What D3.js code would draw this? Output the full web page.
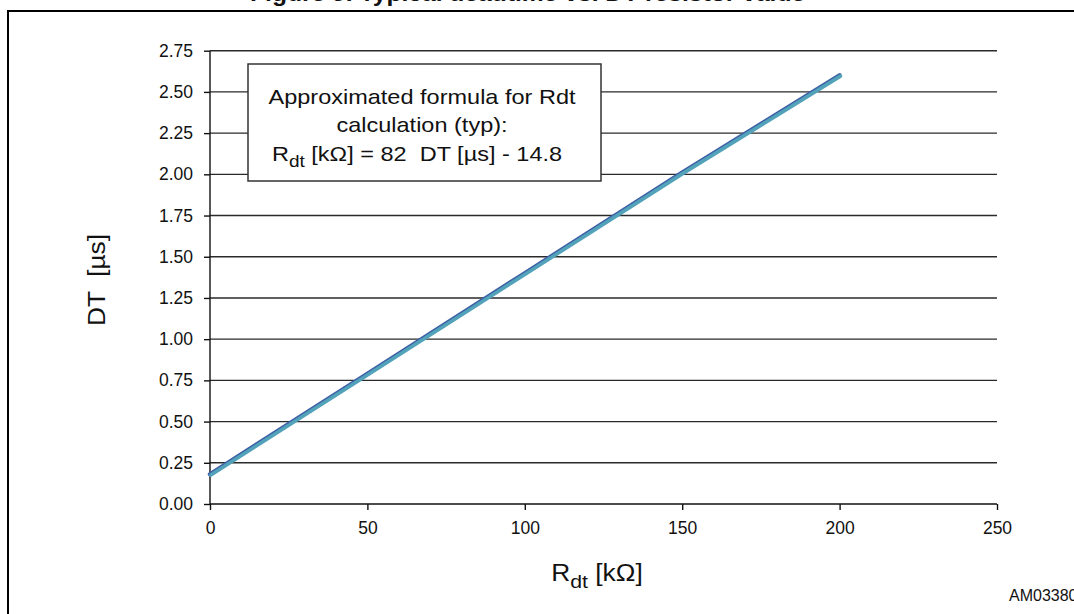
<!DOCTYPE html>
<html><head><meta charset="utf-8">
<script src="https://cdn.jsdelivr.net/npm/d3@7"></script>
<style>
html,body{margin:0;padding:0;background:#fff;overflow:hidden}
text{font-family:"Liberation Sans",Arial,sans-serif;fill:#111;white-space:pre}
</style></head>
<body><svg id="c" width="1074" height="614"></svg>
<script>
const resistance = [0, 50, 100, 150, 200];
const deadtime = [0.18, 0.79, 1.40, 2.01, 2.60];
const xTicks = [0, 50, 100, 150, 200, 250];
const yTicks = [0, 0.25, 0.5, 0.75, 1.0, 1.25, 1.5, 1.75, 2.0, 2.25, 2.5, 2.75];
const boxLines = ["Approximated formula for Rdt", "calculation (typ):"];
const titleText = "Figure 9. Typical deadtime vs. DT resistor value";
const codeText = "AM03380";

const svg = d3.select("#c");
const x = d3.scaleLinear().domain([0, 250]).range([210, 997]);
const y = d3.scaleLinear().domain([0, 2.75]).range([504, 50.7]);

// title (cut off at top, as in the reference)
svg.append("text").attr("transform", "translate(250,1) scale(1.12,1)")
  .attr("font-size", 22).attr("font-weight", "bold").text(titleText);

// frame
svg.append("path").attr("d", "M8,700V11H1100").attr("fill", "none")
  .attr("stroke", "#000").attr("stroke-width", 2);

// gridlines
svg.append("g").selectAll("line").data(yTicks.filter(d => d > 0)).join("line")
  .attr("x1", x(0)).attr("x2", x(250)).attr("y1", d => y(d)).attr("y2", d => y(d))
  .attr("stroke", "#2a2a2a").attr("stroke-width", 1.4);

// y axis
const ya = svg.append("g").attr("transform", `translate(${x(0)},0)`)
  .call(d3.axisLeft(y).tickValues(yTicks).tickFormat(d3.format(".2f")).tickSize(6).tickPadding(11));
ya.select(".domain").attr("stroke", "#111").attr("stroke-width", 1.4).attr("d", `M0,${y(2.75)}V${y(0)}`);
ya.selectAll(".tick line").attr("stroke", "#111").attr("stroke-width", 1.4);
ya.selectAll(".tick text").attr("font-size", 17.5).attr("font-family", "Liberation Sans, Arial, sans-serif").attr("fill", "#111");

// x axis
const xa = svg.append("g").attr("transform", `translate(0,${y(0)})`)
  .call(d3.axisBottom(x).tickValues(xTicks).tickFormat(d3.format("d")).tickSize(6).tickPadding(12));
xa.select(".domain").attr("stroke", "#111").attr("stroke-width", 1.4).attr("d", `M${x(0)},0H${x(250)}`);
xa.selectAll(".tick line").attr("stroke", "#111").attr("stroke-width", 1.4);
xa.selectAll(".tick text").attr("font-size", 17.5).attr("font-family", "Liberation Sans, Arial, sans-serif").attr("fill", "#111");

// data line
const pts = resistance.map((r, i) => [r, deadtime[i]]);
const line = d3.line().x(d => x(d[0])).y(d => y(d[1]));
svg.append("path").datum(pts).attr("d", line).attr("fill", "none")
  .attr("stroke", "#3d5fa6").attr("stroke-width", 4.4).attr("stroke-linecap", "round");
svg.append("path").datum(pts).attr("d", line).attr("fill", "none")
  .attr("transform", "translate(0.8,0.7)")
  .attr("stroke", "#52a3ba").attr("stroke-width", 3.6).attr("stroke-linecap", "round");

// formula box
svg.append("rect").attr("x", 248).attr("y", 64).attr("width", 353).attr("height", 117)
  .attr("fill", "#fff").attr("stroke", "#333").attr("stroke-width", 1.5);
const bx = 422;
boxLines.forEach((t, i) => {
  svg.append("text").attr("transform", `translate(${bx},${104 + i * 27.5}) scale(1.12,1)`)
    .attr("text-anchor", "middle").attr("font-size", 21).text(t);
});
const f = svg.append("text").attr("transform", `translate(${bx - 5},161) scale(1.12,1)`)
  .attr("text-anchor", "middle").attr("font-size", 21);
f.append("tspan").text("R");
f.append("tspan").attr("dy", 6).attr("font-size", 17).text("dt");
f.append("tspan").attr("dy", -6).text(" [kΩ] = 82  DT [µs] - 14.8");

// axis titles
const xt = svg.append("text").attr("transform", "translate(597,581) scale(1.12,1)")
  .attr("text-anchor", "middle").attr("font-size", 23.5);
xt.append("tspan").text("R");
xt.append("tspan").attr("dy", 7).attr("font-size", 19).text("dt");
xt.append("tspan").attr("dy", -7).text(" [kΩ]");

svg.append("text").attr("transform", "translate(105,280) rotate(-90) scale(1.12,1)")
  .attr("text-anchor", "middle").attr("font-size", 23.5).text("DT  [µs]");

svg.append("text").attr("x", 1009).attr("y", 601).attr("font-size", 16).text(codeText);
</script></body></html>
